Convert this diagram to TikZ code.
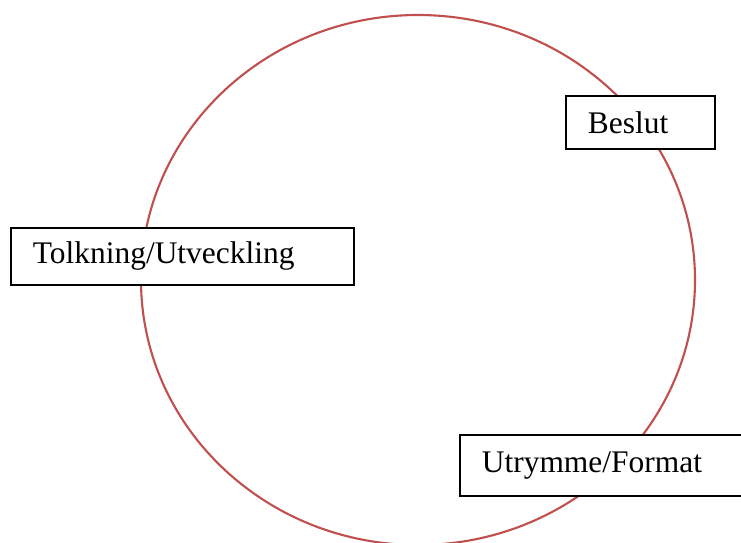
\documentclass[tikz,border=0pt]{standalone}
\usepackage{fontspec}
\setmainfont{Liberation Serif}
\usepackage{tikz}
\definecolor{ringred}{RGB}{192,80,77}
\tikzset{
  stagebox/.style={draw, fill=white, line width=1pt, anchor=north west,
    align=left, inner xsep=0.44cm, inner ysep=0pt,
    font=\fontsize{17.9}{20}\selectfont}
}

\begin{document}
\begin{tikzpicture}[x=0.02cm,y=-0.02cm]
                \useasboundingbox (0,0) rectangle (741,543);

                %the cycle, drawn first so the boxes cover it
                \draw[ringred, line width=1.2pt] (418,280) ellipse [x radius=277, y radius=265];

                %the three stages sitting on the cycle
                \node (beslut) at (565,95) [stagebox, text width=2.1cm, minimum height=1.06cm]{\raisebox{-2pt}{Beslut}};
                \node (tolkning) at (10,227) [stagebox, text width=5.98cm, minimum height=1.14cm]{\raisebox{-2pt}{Tolkning/Utveckling}};
                \node (utrymme) at (459,434) [stagebox, text width=6.5cm, minimum height=1.22cm]{\raisebox{-2pt}{Utrymme/Format}};
            \end{tikzpicture}
\end{document}
